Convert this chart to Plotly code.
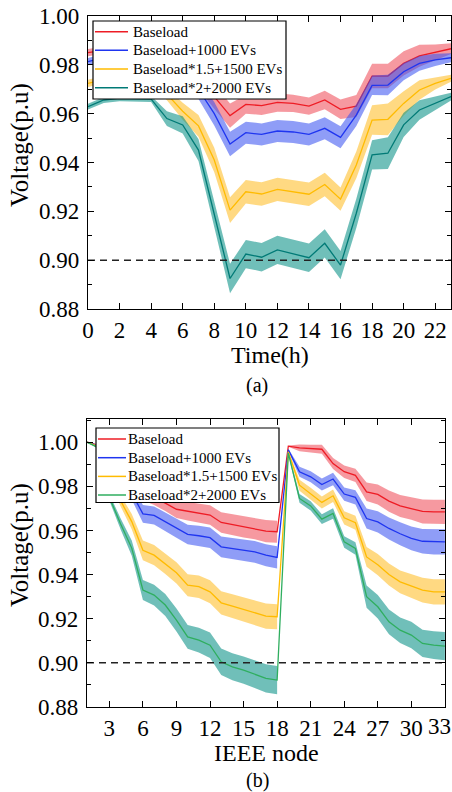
import plotly.graph_objects as go

# ---------------- data: panel (a) ----------------
hours = list(range(24))
hour_ticks = list(range(0, 23, 2))
red_a = [0.985, 0.986, 0.987, 0.987, 0.987, 0.985, 0.980, 0.974, 0.967, 0.9592, 0.9638, 0.9633,
         0.9646, 0.9642, 0.9631, 0.9656, 0.9618, 0.9631, 0.9754, 0.9754, 0.9806, 0.9837, 0.9851, 0.9866]
blue_a = [0.9813, 0.983, 0.984, 0.984, 0.984, 0.982, 0.977, 0.970, 0.960, 0.9476, 0.9522, 0.9515,
          0.9529, 0.9525, 0.9515, 0.954, 0.9503, 0.9594, 0.9716, 0.9717, 0.9772, 0.9806, 0.982, 0.9829]
yellow_a = [0.9724, 0.974, 0.975, 0.975, 0.974, 0.968, 0.961, 0.955, 0.941, 0.9205, 0.928, 0.9271,
            0.929, 0.928, 0.927, 0.931, 0.925, 0.939, 0.9574, 0.9577, 0.9642, 0.9697, 0.9724, 0.9745]
teal_a = [0.9629, 0.9656, 0.9663, 0.9663, 0.966, 0.958, 0.9554, 0.9451, 0.919, 0.8925, 0.9025, 0.9012,
          0.9042, 0.9025, 0.901, 0.9069, 0.898, 0.9192, 0.9431, 0.9438, 0.9554, 0.9615, 0.9642, 0.967]
# half-width of the shaded range
red_aw = [0.0015, 0.0015, 0.0015, 0.0015, 0.0015, 0.002, 0.003, 0.004, 0.005, 0.005, 0.0038, 0.0038,
          0.0038, 0.0035, 0.0035, 0.0038, 0.004, 0.0045, 0.005, 0.005, 0.005, 0.0045, 0.0032, 0.0022]
blue_aw = [0.0015, 0.0015, 0.0015, 0.0015, 0.0015, 0.002, 0.003, 0.004, 0.0048, 0.005, 0.0045, 0.0045,
           0.0045, 0.0045, 0.0045, 0.0045, 0.0045, 0.0045, 0.004, 0.0042, 0.0035, 0.003, 0.0025, 0.0018]
yellow_aw = [0.0015, 0.0015, 0.0015, 0.0015, 0.0018, 0.0025, 0.0035, 0.0045, 0.005, 0.0053, 0.0048, 0.0048,
             0.0048, 0.0048, 0.0048, 0.0048, 0.0048, 0.0055, 0.006, 0.0065, 0.005, 0.004, 0.0025, 0.0014]
teal_aw = [0.0012, 0.0012, 0.0012, 0.0012, 0.0012, 0.003, 0.0035, 0.0045, 0.0055, 0.006, 0.0058, 0.0058,
           0.0058, 0.0058, 0.0058, 0.0058, 0.0058, 0.006, 0.006, 0.0065, 0.005, 0.004, 0.0028, 0.0016]

# ---------------- data: panel (b) ----------------
nodes = list(range(1, 34))
node_ticks = list(range(3, 34, 3))
red_b = [1.0, 0.9986, 0.9921, 0.9883, 0.985, 0.9767, 0.9748, 0.9724, 0.9696, 0.9687, 0.9677, 0.967,
         0.9636, 0.9627, 0.9616, 0.9609, 0.9597, 0.9594, 0.9982, 0.9974, 0.997, 0.9968, 0.9903, 0.9866,
         0.985, 0.9775, 0.9763, 0.9733, 0.9711, 0.97, 0.9686, 0.9684, 0.9684]
blue_b = [1.0, 0.9983, 0.991, 0.985, 0.977, 0.9675, 0.9668, 0.964, 0.961, 0.9582, 0.9576, 0.9567,
          0.9526, 0.9518, 0.9511, 0.9503, 0.9488, 0.9478, 0.9965, 0.9866, 0.9843, 0.9808, 0.9833, 0.9765,
          0.975, 0.9654, 0.9639, 0.9609, 0.9585, 0.9564, 0.9551, 0.9548, 0.9548]
yellow_b = [1.0, 0.998, 0.984, 0.9735, 0.964, 0.951, 0.9488, 0.945, 0.9408, 0.9352, 0.9345, 0.9322,
            0.9272, 0.9257, 0.9242, 0.9227, 0.9212, 0.9209, 0.9956, 0.9805, 0.9767, 0.9727, 0.9757, 0.9657,
            0.9635, 0.948, 0.9445, 0.940, 0.9367, 0.935, 0.933, 0.9322, 0.9322]
green_b = [1.0, 0.9975, 0.975, 0.963, 0.952, 0.933, 0.9307, 0.9262, 0.9194, 0.9118, 0.9103, 0.908,
           0.9005, 0.8982, 0.8967, 0.8949, 0.893, 0.8922, 0.995, 0.9745, 0.9711, 0.9651, 0.9677, 0.9548,
           0.9518, 0.930, 0.9254, 0.9186, 0.9148, 0.9126, 0.9088, 0.908, 0.9076]
red_bw = [0.0, 0.0005, 0.0015, 0.002, 0.0025, 0.003, 0.0033, 0.0036, 0.004, 0.0042, 0.0043, 0.0044,
          0.0046, 0.0047, 0.0048, 0.0049, 0.005, 0.005, 0.0003, 0.0015, 0.0018, 0.002, 0.0025, 0.0028,
          0.003, 0.0042, 0.0045, 0.0048, 0.005, 0.0052, 0.0054, 0.0055, 0.0055]
blue_bw = [0.0, 0.0005, 0.0015, 0.0022, 0.003, 0.004, 0.0041, 0.0042, 0.0043, 0.0044, 0.0045, 0.0046,
           0.0047, 0.0048, 0.0048, 0.0049, 0.005, 0.005, 0.0005, 0.0023, 0.0025, 0.0027, 0.0028, 0.003,
           0.0032, 0.0045, 0.0048, 0.005, 0.0052, 0.0054, 0.0056, 0.0057, 0.0057]
yellow_bw = [0.0, 0.0005, 0.0015, 0.0025, 0.0035, 0.0045, 0.0046, 0.0047, 0.0048, 0.005, 0.0051, 0.0052,
             0.0053, 0.0054, 0.0055, 0.0056, 0.0057, 0.0057, 0.0005, 0.0025, 0.0026, 0.0027, 0.0028, 0.003,
             0.0032, 0.0045, 0.0048, 0.005, 0.0052, 0.0054, 0.0056, 0.0057, 0.0057]
green_bw = [0.0, 0.0005, 0.0015, 0.0025, 0.0035, 0.0045, 0.0047, 0.005, 0.0052, 0.0054, 0.0056, 0.0058,
            0.006, 0.0061, 0.0062, 0.0063, 0.0064, 0.0064, 0.0005, 0.002, 0.0021, 0.0022, 0.0024, 0.0026,
            0.0028, 0.005, 0.0053, 0.0056, 0.0058, 0.006, 0.0062, 0.0063, 0.0064]

threshold = 0.90
names = ["Baseload", "Baseload+1000 EVs", "Baseload*1.5+1500 EVs", "Baseload*2+2000 EVs"]
line_cols_a = ["#ee1c25", "#1f35f0", "#ffbb00", "#007a76"]
line_cols_b = ["#ee1c25", "#1f35f0", "#ffbb00", "#2fae5f"]
band_cols = ["rgba(238,60,72,0.52)", "rgba(55,80,240,0.56)", "rgba(255,190,40,0.58)", "rgba(0,140,130,0.56)"]

FONT = "Liberation Serif"
W, H = 452, 792

fig = go.Figure()


def band_polygon(xs, ys, ws, segments):
    px, py = [], []
    for (s, e) in segments:
        xx = xs[s:e]
        up = [y + w for y, w in zip(ys[s:e], ws[s:e])]
        lo = [y - w for y, w in zip(ys[s:e], ws[s:e])]
        px += xx + xx[::-1] + [None]
        py += up + lo[::-1] + [None]
    return px, py


series_a = [(red_a, red_aw), (blue_a, blue_aw), (yellow_a, yellow_aw), (teal_a, teal_aw)]
for i, (ys, ws) in enumerate(series_a):
    px, py = band_polygon(hours, ys, ws, [(0, 24)])
    fig.add_trace(go.Scatter(x=px, y=py, fill="toself", fillcolor=band_cols[i], line=dict(width=0),
                             mode="lines", showlegend=False, hoverinfo="skip", xaxis="x", yaxis="y"))
    fig.add_trace(go.Scatter(x=hours, y=ys, mode="lines", name=names[i], showlegend=False,
                             line=dict(color=line_cols_a[i], width=1.3), xaxis="x", yaxis="y"))

series_b = [(red_b, red_bw), (blue_b, blue_bw), (yellow_b, yellow_bw), (green_b, green_bw)]
for i, (ys, ws) in enumerate(series_b):
    px, py = band_polygon(nodes, ys, ws, [(0, 18), (18, 33)])
    fig.add_trace(go.Scatter(x=px, y=py, fill="toself", fillcolor=band_cols[i], line=dict(width=0),
                             mode="lines", showlegend=False, hoverinfo="skip", xaxis="x2", yaxis="y2"))
    fig.add_trace(go.Scatter(x=nodes, y=ys, mode="lines", name=names[i], showlegend=False,
                             line=dict(color=line_cols_b[i], width=1.3), xaxis="x2", yaxis="y2"))

# threshold lines
fig.add_trace(go.Scatter(x=[hours[0], hours[-1]], y=[threshold, threshold], mode="lines",
                         line=dict(color="#222222", width=1.5, dash="7px,5px"),
                         showlegend=False, xaxis="x", yaxis="y"))
fig.add_trace(go.Scatter(x=[nodes[0], nodes[-1]], y=[threshold, threshold], mode="lines",
                         line=dict(color="#222222", width=1.5, dash="7px,5px"),
                         showlegend=False, xaxis="x2", yaxis="y2"))

axis_common = dict(showline=True, linecolor="black", linewidth=1.2, mirror="allticks",
                   ticks="inside", ticklen=6, tickwidth=1.2, tickcolor="black", showgrid=False,
                   zeroline=False, tickfont=dict(family=FONT, size=23, color="black"),
                   automargin=False)

ya_top = (1 - 309 / H, 1 - 16 / H)
ya_bot = (1 - 707 / H, 1 - 419 / H)

fig.update_layout(
    width=W, height=H, margin=dict(l=0, r=0, t=0, b=0, autoexpand=False), autosize=False,
    paper_bgcolor="white", plot_bgcolor="white",
    font=dict(family=FONT, color="black"),
    showlegend=False,
    xaxis=dict(domain=[88 / W, 451 / W], range=[0, 23], tickvals=hour_ticks, anchor="y", **axis_common),
    yaxis=dict(domain=list(ya_top), range=[0.88, 1.0], dtick=0.02, tick0=0.88, tickformat=".2f",
               anchor="x", ticklabelstandoff=3,
               minor=dict(dtick=0.01, tick0=0.88, ticks="inside", ticklen=4, tickcolor="black", tickwidth=1.2),
               **axis_common),
    xaxis2=dict(domain=[87 / W, 445 / W], range=[1, 33.01], tickvals=node_ticks, anchor="y2", **axis_common),
    yaxis2=dict(domain=list(ya_bot), range=[0.88, 1.0105], dtick=0.02, tick0=0.88, tickformat=".2f",
                anchor="x2", ticklabelstandoff=3,
                minor=dict(dtick=0.01, tick0=0.88, ticks="inside", ticklen=4, tickcolor="black", tickwidth=1.2),
                **axis_common),
)


def px_x(v):
    return v / W


def px_y(v):
    return 1 - v / H


# last node label sits on the right border; keep it inside the page
fig.add_annotation(text=str(node_ticks[-1]), x=1.0, xref="paper", y=px_y(726), yref="paper",
                   showarrow=False, xanchor="right", yanchor="middle", borderpad=0,
                   font=dict(family=FONT, size=23, color="black"))


# manual legends (box, line samples, labels)
def add_legend(box, rows, line_x, text_x, cols):
    x0, y0, x1, y1 = box
    fig.add_shape(type="rect", xref="paper", yref="paper", x0=px_x(x0), x1=px_x(x1),
                  y0=px_y(y1), y1=px_y(y0), line=dict(color="black", width=1.2), fillcolor="white",
                  layer="above")
    for r, name, c in zip(rows, names, cols):
        fig.add_shape(type="line", xref="paper", yref="paper", x0=px_x(line_x[0]), x1=px_x(line_x[1]),
                      y0=px_y(r), y1=px_y(r), line=dict(color=c, width=1.5), layer="above")
        fig.add_annotation(text=name, x=px_x(text_x), y=px_y(r), xref="paper", yref="paper",
                           showarrow=False, xanchor="left", yanchor="middle", borderpad=0,
                           font=dict(family=FONT, size=15, color="black"))


add_legend((93, 21, 286, 99), [31.7, 50.3, 69.0, 87.7], (95, 128), 132, line_cols_a)
add_legend((96, 428, 279, 502.5), [439.0, 457.7, 476.4, 495.0], (98, 126), 127, line_cols_b)

ann_font = dict(family=FONT, size=25, color="black")
fig.add_annotation(text="Voltage(p.u)", textangle=-90, x=px_x(20), y=px_y(145), xref="paper", yref="paper",
                   showarrow=False, font=ann_font, xanchor="center", yanchor="middle")
fig.add_annotation(text="Time(h)", x=px_x(270), y=px_y(355), xref="paper", yref="paper",
                   showarrow=False, font=dict(family=FONT, size=24, color="black"),
                   xanchor="center", yanchor="middle")
fig.add_annotation(text="(a)", x=px_x(257), y=px_y(385), xref="paper", yref="paper",
                   showarrow=False, font=dict(family=FONT, size=20, color="black"),
                   xanchor="center", yanchor="middle")
fig.add_annotation(text="Voltage(p.u)", textangle=-90, x=px_x(20), y=px_y(545), xref="paper", yref="paper",
                   showarrow=False, font=ann_font, xanchor="center", yanchor="middle")
fig.add_annotation(text="IEEE node", x=px_x(266), y=px_y(753), xref="paper", yref="paper",
                   showarrow=False, font=dict(family=FONT, size=24, color="black"),
                   xanchor="center", yanchor="middle")
fig.add_annotation(text="(b)", x=px_x(257), y=px_y(780), xref="paper", yref="paper",
                   showarrow=False, font=dict(family=FONT, size=20, color="black"),
                   xanchor="center", yanchor="middle")

fig.write_html("out.html")
